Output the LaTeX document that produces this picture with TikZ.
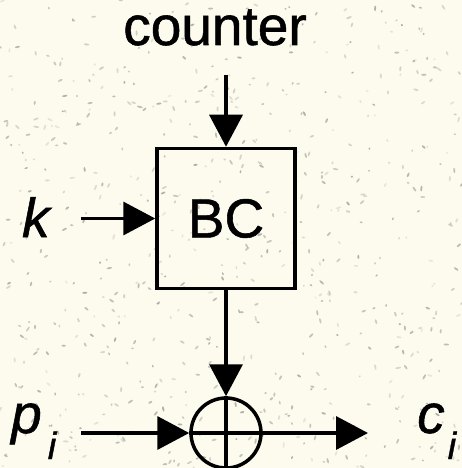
\documentclass[tikz,border=0pt]{standalone}
\usepackage{fontspec}
\setmainfont[UprightFeatures={FakeBold=1}, ItalicFeatures={FakeBold=1}]{Liberation Sans}
\usetikzlibrary{arrows.meta}
\definecolor{paper}{HTML}{FDFBEE}
\definecolor{speck}{HTML}{7E7E76}

\begin{document}
\begin{tikzpicture}[x=1pt, y=-1pt,
  wire/.style={line width=3.5pt},
  feed/.style={wire, -{Triangle[length=32pt, width=33pt]}},
  lbl/.style={font=\fontsize{55}{60}\selectfont, inner sep=0pt},
  cipherbox/.style={draw, line width=3.5pt, minimum width=138pt, minimum height=140pt,
    inner sep=0pt, font=\fontsize{55}{60}\selectfont},
  xorgate/.style={draw, circle, line width=3.5pt, minimum size=70pt, inner sep=0pt}]

  % === Block cipher in counter mode, one step ===

  \def\W{462}   % picture width
  \def\H{468}   % picture height

  % Paper background with speckles
  \useasboundingbox (0,0) rectangle (\W,\H);
  \clip (0,0) rectangle (\W,\H);
  \fill[paper] (0,0) rectangle (\W,\H);
  \pgfmathsetseed{11}
  \foreach \s in {1,...,650} {
    \pgfmathsetmacro\sx{rnd*\W}
    \pgfmathsetmacro\sy{rnd*\H}
    \pgfmathsetmacro\sa{rnd*180}
    \pgfmathsetmacro\so{0.15+0.45*rnd}
    \pgfmathsetmacro\sl{1.2+1.8*rnd}
    \fill[speck, opacity=\so, rotate around={\sa:(\sx,\sy)}]
      (\sx,\sy) ellipse [x radius=\sl, y radius=1];
  }

  % Cipher block and XOR
  \node[cipherbox] (bc) at (226,218.5) {BC};
  \node[xorgate] (xor) at (226,433) {};
  \draw[wire] (xor.north) -- (xor.south);
  \draw[wire] (xor.west) -- (xor.east);

  % Labels
  \node[lbl, anchor=base] (counter) at (215,45) {counter};
  \node[lbl, anchor=base] (key) at (37,237) {\textit{k}};
  \node[lbl, anchor=base west] (plain) at (11,433)
    {\textit{p}\hspace{6pt}\raisebox{-26pt}{\fontsize{38}{40}\selectfont\textit{i}}};
  \node[lbl, anchor=base west] (ciph) at (417,433)
    {\textit{c}\hspace{3pt}\raisebox{-26pt}{\fontsize{38}{40}\selectfont\textit{i}}};

  % Free ends of the connectors
  \coordinate (cin) at (226,75);
  \coordinate (kin) at (81,218.5);
  \coordinate (pin) at (81,433);
  \coordinate (cout) at (368,433);

  % Connectors
  \draw[feed] (cin) -- (bc.north);
  \draw[feed] (kin) -- (bc.west);
  \draw[feed] (bc.south) -- (xor.north);
  \draw[feed] (pin) -- (xor.west);
  \draw[feed] (xor.east) -- (cout);

\end{tikzpicture}
\end{document}
